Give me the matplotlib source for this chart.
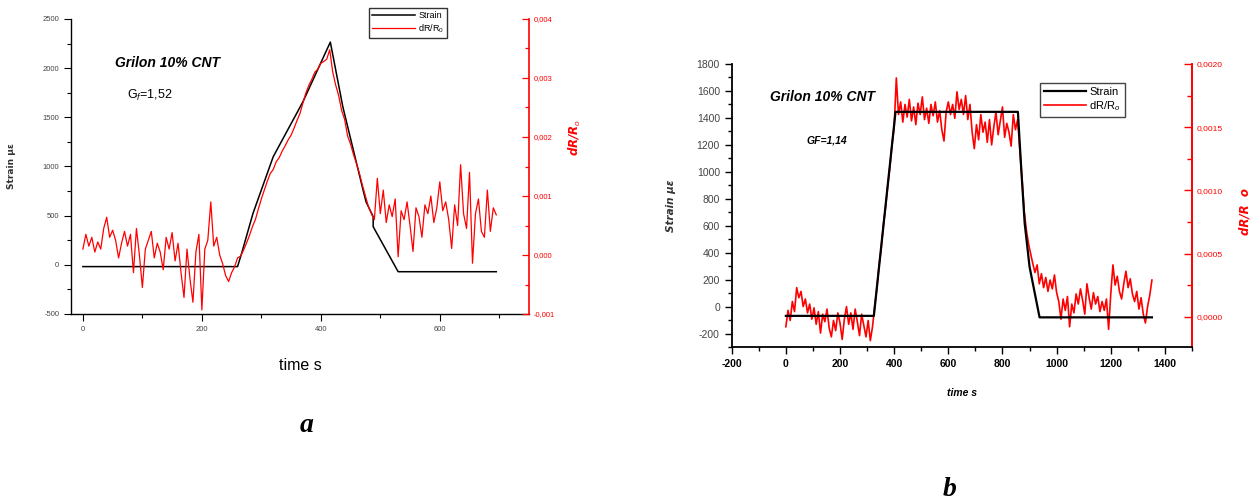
import numpy as np
import matplotlib
matplotlib.use("Agg")
import matplotlib.pyplot as plt
from matplotlib import font_manager
from matplotlib.ticker import MultipleLocator, FuncFormatter

# ---------------- data: panel a ----------------
a_strain_time = [0, 260, 267, 286, 320, 370, 416, 437, 471, 476, 488, 488, 530, 695]
a_strain = [-18, -18, 120, 524, 1100, 1659, 2265, 1608, 761, 642, 490, 388, -70, -70]
a_dr_step = 5  # s between dR/R0 samples
a_dr_milli = [  # dR/R0 in units of 1e-3
    0.10, 0.35, 0.15, 0.30, 0.05, 0.22, 0.10, 0.45, 0.64, 0.30,
    0.42, 0.25, -0.05, 0.20, 0.40, 0.15, 0.35, -0.30, 0.45, 0.00,
    -0.55, 0.10, 0.25, 0.40, -0.05, 0.20, 0.05, -0.25, 0.30, 0.10,
    0.38, -0.10, 0.20, -0.30, -0.72, 0.10, -0.40, -0.80, 0.05, 0.35,
    -0.93, 0.10, 0.25, 0.90, 0.15, 0.30, 0.00, -0.15, -0.35, -0.45,
    -0.30, -0.20, -0.05, -0.02, 0.08, 0.20, 0.33, 0.48, 0.60, 0.78,
    0.95, 1.10, 1.25, 1.38, 1.45, 1.58, 1.65, 1.76, 1.85, 1.95,
    2.03, 2.15, 2.28, 2.40, 2.58, 2.75, 2.88, 2.98, 3.10, 3.15,
    3.25, 3.28, 3.32, 3.48, 3.10, 2.88, 2.70, 2.45, 2.30, 2.02,
    1.88, 1.70, 1.55, 1.38, 1.18, 1.00, 0.82, 0.70, 0.60, 1.30,
    0.70, 1.10, 0.55, 0.85, 0.65, 0.95, -0.03, 0.75, 0.60, 0.90,
    0.50, 0.06, 0.80, 0.65, 0.30, 0.85, 0.70, 1.00, 0.55, 0.80,
    1.24, 0.75, 0.90, 0.60, 0.11, 0.85, 0.50, 1.53, 0.70, 0.45,
    1.40, -0.14, 0.70, 0.95, 0.40, 0.30, 1.10, 0.40, 0.80, 0.68,
]

# ---------------- data: panel b ----------------
b_strain_time = [0, 325, 405, 857, 870, 882, 900, 937, 1352]
b_strain = [-69, -69, 1445, 1445, 1000, 620, 296, -80, -80]
b_dr_step = 8
b_dr_e4 = [  # dR/R0 in units of 1e-4
    -0.8, 0.5, -0.3, 1.2, 0.4, 2.3, 1.5, 2.0, 0.8, 1.4,
    0.3, 1.0, -0.2, 0.7, -0.6, 0.4, -1.3, 0.2, -0.4, 0.6,
    -0.9, -1.6, -0.3, -1.1, 0.3, -0.5, -1.8, -0.2, 0.8, -0.6,
    0.3, -1.0, 0.6, -0.4, -1.5, 0.2, -0.7, -1.6, -0.3, -1.9,
    -0.8, 0.8, 2.2, 4.0, 5.4, 7.2, 8.6, 10.3, 11.8, 13.6,
    15.0, 18.9, 16.0, 17.0, 15.4, 16.8, 15.8, 17.2, 15.5, 16.6,
    15.2, 16.9, 16.0, 17.4, 15.6, 16.5, 15.3, 16.8, 15.9, 17.0,
    15.4, 16.3, 14.8, 13.9, 16.2, 17.0, 16.0, 16.8, 15.7, 17.8,
    16.4, 17.2, 16.0, 17.5, 15.6, 16.8, 14.6, 13.3, 15.2, 14.0,
    16.0, 14.6, 15.4, 13.8, 15.6, 13.6, 15.0, 16.2, 14.4, 15.5,
    16.6, 14.2, 15.3, 14.6, 13.5, 16.0, 14.8, 15.6, 13.2, 11.0,
    8.4, 6.9, 5.8, 5.0, 4.2, 3.5, 4.1, 2.6, 3.4, 2.3,
    3.1, 2.0, 2.9, 2.2, 3.3, 1.9, 1.2, -0.2, 1.4, 0.5,
    1.6, -0.8, 1.0, 0.3, 1.8, 1.0, 2.2, 1.3, 0.2, 2.6,
    1.5, 0.6, 1.9, 1.0, 1.6, 0.4, 1.2, 0.5, 1.4, -1.0,
    1.8, 4.1, 2.5, 3.2, 2.0, 1.4, 2.6, 3.6, 2.3, 3.0,
    1.8, 1.2, 2.0, 0.6, 1.5, 0.2, -0.5, 0.8, 1.7, 2.9,
]

# ---------------- fonts ----------------
names = {f.name for f in font_manager.fontManager.ttflist}
NARROW = "Liberation Sans Narrow" if "Liberation Sans Narrow" in names else "Liberation Sans"
SERIF = "Liberation Serif" if "Liberation Serif" in names else "DejaVu Serif"
plt.rcParams["font.family"] = [NARROW, "DejaVu Sans"]
plt.rcParams["mathtext.fontset"] = "custom"
plt.rcParams["mathtext.rm"] = NARROW
plt.rcParams["mathtext.it"] = NARROW + ":italic"
plt.rcParams["axes.unicode_minus"] = False

RED = "#ff0000"


def comma(fmt):
    return FuncFormatter(lambda v, p: (fmt % v).replace(".", ","))


fig = plt.figure(figsize=(12.58, 5.03), dpi=100)

# =============== panel a ===============
ax1 = fig.add_axes([71 / 1258, 1 - 314 / 503, 458 / 1258, 295 / 503])
ax2 = ax1.twinx()
ta = np.arange(len(a_dr_milli)) * a_dr_step
l_red_a, = ax2.plot(ta, np.array(a_dr_milli) * 1e-3, color=RED, lw=0.9)
l_blk_a, = ax1.plot(a_strain_time, a_strain, color="black", lw=1.1)

ax1.set_xlim(-20, 750)
ax1.set_ylim(-500, 2500)
ax2.set_ylim(-0.001, 0.004)
ax1.xaxis.set_major_locator(MultipleLocator(200))
ax1.xaxis.set_minor_locator(MultipleLocator(100))
ax1.yaxis.set_major_locator(MultipleLocator(500))
ax1.yaxis.set_minor_locator(MultipleLocator(250))
ax2.yaxis.set_major_locator(MultipleLocator(0.001))
ax2.yaxis.set_minor_locator(MultipleLocator(0.0005))
ax2.yaxis.set_major_formatter(comma("%.3f"))

for ax in (ax1, ax2):
    ax.spines["top"].set_visible(False)
ax1.spines["right"].set_visible(False)
ax2.spines["left"].set_visible(False)
ax2.spines["bottom"].set_visible(False)
ax2.spines["right"].set_color(RED)
ax2.spines["right"].set_linewidth(1.2)
ax1.spines["left"].set_linewidth(1.0)
ax1.spines["bottom"].set_linewidth(1.0)

ax1.tick_params(which="major", direction="out", length=5, width=0.8, labelsize=5.5, labelcolor="#444444")
ax1.tick_params(which="minor", direction="out", length=3, width=0.8)
ax2.tick_params(which="major", direction="in", length=5, width=0.9, colors=RED, labelsize=5.5)
ax2.tick_params(which="minor", direction="in", length=3, width=0.9, colors=RED)

ax1.set_xlabel("time s", fontsize=11.5)
ax1.xaxis.set_label_coords(0.5, -0.15)
ax1.set_ylabel("Strain \u00b5\u03b5", fontsize=6.5, fontweight="bold", color="#333333",
               family=["DejaVu Sans"])
ax1.yaxis.set_label_coords(-0.12, 0.5)
ax2.set_ylabel("dR/R$_o$", fontsize=8.5, color=RED, fontweight="bold", style="italic",
               family=["DejaVu Sans"])
ax2.yaxis.set_label_coords(1.083, 0.6)

ax1.text(0.21, 0.851, "Grilon 10% CNT", transform=ax1.transAxes, ha="center", va="center",
         fontsize=10, fontweight="bold", style="italic")
ax1.text(0.172, 0.742, "G$_f$=1,52", transform=ax1.transAxes, ha="center", va="center",
         fontsize=9)

fig.legend([l_blk_a, l_red_a], ["Strain", "dR/R$_0$"], loc="upper left",
           bbox_to_anchor=(369 / 1258, 1 - 8 / 503), fontsize=6.5, frameon=True,
           fancybox=False, edgecolor="#333333", framealpha=1, borderaxespad=0,
           handlelength=4.8, handletextpad=0.3, borderpad=0.35, labelspacing=0.25)

# =============== panel b ===============
bx1 = fig.add_axes([731.7 / 1258, 1 - 347 / 503, 460.3 / 1258, 283 / 503])
bx2 = bx1.twinx()
tb = np.arange(len(b_dr_e4)) * b_dr_step
l_red_b, = bx2.plot(tb, np.array(b_dr_e4) * 1e-4, color=RED, lw=1.2)
l_blk_b, = bx1.plot(b_strain_time, b_strain, color="black", lw=1.6)
bx1.set_zorder(bx2.get_zorder() + 1)
bx1.patch.set_visible(False)

bx1.set_xlim(-200, 1500)
bx1.set_ylim(-300, 1800)
bx2.set_ylim(-0.00024, 0.0020)
bx1.xaxis.set_major_locator(MultipleLocator(200))
bx1.xaxis.set_minor_locator(MultipleLocator(100))
bx1.yaxis.set_major_locator(MultipleLocator(200))
bx1.yaxis.set_minor_locator(MultipleLocator(100))
bx2.yaxis.set_major_locator(MultipleLocator(0.0005))
bx2.yaxis.set_minor_locator(MultipleLocator(0.00025))
bx2.yaxis.set_major_formatter(comma("%.4f"))

for ax in (bx1, bx2):
    ax.spines["top"].set_visible(False)
bx1.spines["right"].set_visible(False)
bx2.spines["left"].set_visible(False)
bx2.spines["bottom"].set_visible(False)
bx2.spines["right"].set_color(RED)
bx2.spines["right"].set_linewidth(1.4)
bx1.spines["left"].set_linewidth(1.3)
bx1.spines["bottom"].set_linewidth(1.3)

bx1.tick_params(which="major", direction="out", length=5, width=1.0, labelsize=7.5)
bx1.tick_params(which="minor", direction="out", length=3, width=1.0)
bx1.tick_params(axis="y", labelcolor="#444444")
for lab in bx1.get_xticklabels():
    lab.set_fontweight("bold")
bx2.tick_params(which="major", direction="in", length=6, width=1.0, colors=RED, labelsize=6)
bx2.tick_params(which="minor", direction="in", length=3.5, width=1.0, colors=RED)

bx1.set_xlabel("time s", fontsize=7.5, fontweight="bold", style="italic")
bx1.xaxis.set_label_coords(0.5, -0.145)
bx1.set_ylabel("Strain \u00b5\u03b5", fontsize=7.5, fontweight="bold", style="italic",
               color="#333333", family=["DejaVu Sans"])
bx1.yaxis.set_label_coords(-0.121, 0.5)
bx2.set_ylabel("dR/R  o", fontsize=8.5, color=RED, fontweight="bold", style="italic",
               family=["DejaVu Sans"])
bx2.yaxis.set_label_coords(1.10, 0.48)

bx1.text(0.198, 0.883, "Grilon 10% CNT", transform=bx1.transAxes, ha="center", va="center",
         fontsize=10, fontweight="bold", style="italic")
bx1.text(0.207, 0.731, "GF=1,14", transform=bx1.transAxes, ha="center", va="center",
         fontsize=7.5, fontweight="bold", style="italic")

fig.legend([l_blk_b, l_red_b], ["Strain", "dR/R$_o$"], loc="upper left",
           bbox_to_anchor=(1040 / 1258, 1 - 83 / 503), fontsize=8, frameon=True,
           fancybox=False, edgecolor="#444444", framealpha=1, borderaxespad=0,
           handlelength=3.8, handletextpad=0.3, borderpad=0.35, labelspacing=0.2)

# panel letters
fig.text(306.7 / 1258, 1 - 425 / 503, "a", ha="center", va="center", fontsize=20,
         fontweight="bold", style="italic", family=[SERIF])
fig.text(950 / 1258, 1 - 490 / 503, "b", ha="center", va="center", fontsize=20,
         fontweight="bold", style="italic", family=[SERIF])

fig.savefig("out.png", dpi=100)
